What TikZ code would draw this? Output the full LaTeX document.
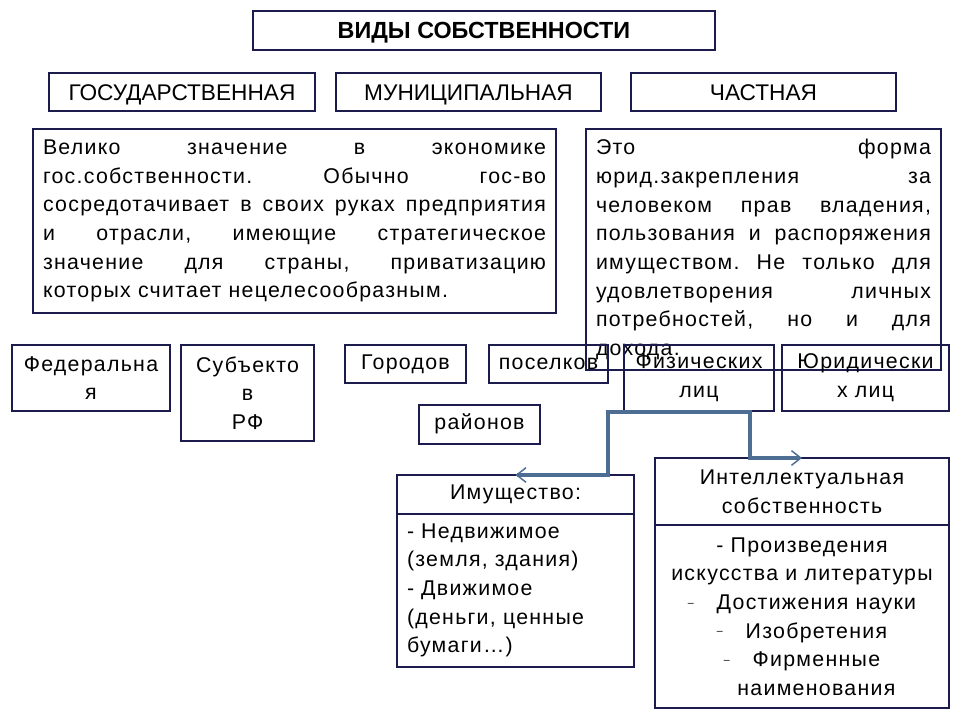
\documentclass[tikz,border=0pt]{standalone}
\usepackage{fontspec}
\setmainfont{Liberation Sans}
\newfontfamily\spacedfont[LetterSpace=6]{Liberation Sans}
\usepackage{tikz}
\usetikzlibrary{arrows.meta,positioning}
\definecolor{navy}{HTML}{1B1B4D}
\definecolor{steel}{HTML}{4D6E92}
\newlength\pxu
\setlength\pxu{0.75pt}
\newcommand\fullline[1]{\makebox[\hsize][s]{\frenchspacing\spaceskip=0.3em plus 1fil\xspaceskip=0.3em plus 1fil\relax#1}}
\newcommand\smdash{\makebox[1.35em][l]{\raisebox{0.3ex}{\fontsize{8pt}{8pt}\selectfont –}}}

\begin{document}
\begin{tikzpicture}[x=0.75pt,y=-0.75pt,
  every node/.style={draw=navy,line width=0.9pt,inner sep=0pt,outer sep=0pt,align=center,
    font=\spacedfont\fontsize{16pt}{21.5pt}\selectfont},
  kindbox/.style={minimum width=265\pxu,minimum height=38\pxu,text height=12.2pt,text depth=0pt,
    font=\fontsize{17pt}{20pt}\selectfont},
  onebox/.style={minimum height=38\pxu,text height=11.6pt,text depth=3.4pt},
  textbox/.style={inner xsep=10\pxu,align=left},
  link/.style={draw=steel,>={Straight Barb[length=7pt,width=11pt,line width=1.1pt]},<->}]
  \path[fill=white] (0,0) rectangle (960,720);
  \useasboundingbox (0,0) rectangle (960,720);

  % title and the three kinds
  \node[minimum width=462\pxu,minimum height=39\pxu,text height=12.6pt,text depth=0pt,
    font=\bfseries\fontsize{17.5pt}{21pt}\selectfont] (title) at (484,30.5) {ВИДЫ СОБСТВЕННОСТИ};
  \node[kindbox,minimum width=266\pxu] (gos) at (182,92) {ГОСУДАРСТВЕННАЯ};
  \node[kindbox] (mun) at (468.5,92) {МУНИЦИПАЛЬНАЯ};
  \node[kindbox] (chast) at (763.5,92) {ЧАСТНАЯ};

  % descriptions
  \node[textbox,text width=503\pxu,minimum height=184\pxu] (gostext) at (294.5,221) {%
    \fullline{Велико значение в экономике}\\
    \fullline{гос.собственности. Обычно гос-во}\\
    \fullline{сосредотачивает в своих руках предприятия}\\
    \fullline{и отрасли, имеющие стратегическое}\\
    \fullline{значение для страны, приватизацию}\\
    которых считает нецелесообразным.};
  \node[textbox,text width=335\pxu,minimum height=241\pxu] (chasttext) at (763.5,249.5) {%
    \fullline{Это форма}\\
    \fullline{юрид.закрепления за}\\
    \fullline{человеком прав владения,}\\
    \fullline{пользования и распоряжения}\\
    \fullline{имуществом. Не только для}\\
    \fullline{удовлетворения личных}\\
    \fullline{потребностей, но и для}\\
    дохода.};

  % subdivisions
  \node[minimum width=158\pxu,minimum height=66\pxu] (fed) at (91,378) {Федеральна\\я};
  \node[minimum width=133\pxu,minimum height=96\pxu] (subj) at (247.5,393) {Субъекто\\в\\РФ};
  \node[onebox,minimum width=121\pxu] (gor) at (405.5,364) {Городов};
  \node[onebox,minimum width=119\pxu] (pos) at (548.5,364) {поселков};
  \node[onebox,minimum width=121\pxu,minimum height=39\pxu] (ray) at (479.5,424.5) {районов};
  \node[minimum width=150\pxu,minimum height=66\pxu] (fiz) at (699,378) {Физических\\лиц};
  \node[minimum width=167\pxu,minimum height=66\pxu] (yur) at (865.5,378) {Юридически\\х лиц};

  % objects
  \node[onebox,minimum width=237\pxu,minimum height=39\pxu] (imuhead) at (515.5,494.5) {Имущество:};
  \node[textbox,text width=217\pxu,minimum height=153\pxu,below=0pt of imuhead] (imubody) {%
    - Недвижимое\\(земля, здания)\\- Движимое\\(деньги, ценные\\бумаги\ldots)};
  \node[minimum width=294\pxu,minimum height=67\pxu] (intelhead) at (802,491.5) {Интеллектуальная\\собственность};
  \node[minimum width=294\pxu,minimum height=183\pxu,below=0pt of intelhead] (intelbody) {%
    - Произведения\\искусства и литературы\\\smdash Достижения науки\\\smdash Изобретения\\
    \smdash Фирменные\\\hspace*{1.35em}наименования};

  \coordinate (bendL) at (608,412);
  \coordinate (bendR) at (750,412);
  \draw[link,line width=2.3pt] (imuhead.north) -| (bendL) -- (bendR) |- (intelhead.north);
\end{tikzpicture}
\end{document}
